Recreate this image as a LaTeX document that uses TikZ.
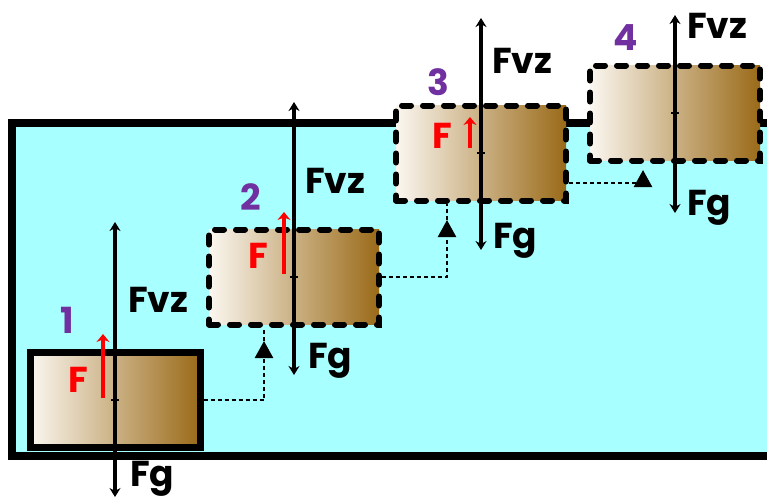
\documentclass[tikz,border=0pt]{standalone}
\usepackage{fontspec}
\setmainfont{Poppins}
\usetikzlibrary{arrows.meta,backgrounds}
\definecolor{water}{HTML}{A8FFFF}
\definecolor{boxl}{HTML}{FBF7F0}
\definecolor{boxr}{HTML}{9A6A18}
\definecolor{numc}{HTML}{7030A0}
\definecolor{fred}{HTML}{FF0000}
\begin{document}
\begin{tikzpicture}[x=1pt,y=-1pt,
  block/.style={rectangle, minimum width=170pt, minimum height=95pt, inner sep=0pt,
    left color=boxl, right color=boxr, draw=black},
  solidblock/.style={block, line width=7pt},
  dashblock/.style={block, line width=6pt, dash pattern=on 9pt off 12pt, line cap=round},
  force/.style={line width=3.5pt, {Stealth[length=9pt,width=11pt]}-{Stealth[length=9pt,width=11pt]}},
  tickmark/.style={line width=1.5pt},
  pull/.style={draw=fred, line width=4pt, -{Stealth[length=8pt,width=13pt]}},
  conn/.style={line width=2.5pt, dash pattern=on 4pt off 3pt},
  connarrow/.style={-{Triangle[length=17pt,width=18pt]}},
  lab/.style={font=\fontsize{36}{40}\selectfont\bfseries, inner sep=0pt, anchor=base west},
]
\useasboundingbox (0,0) rectangle (767,499);
\clip (0,0) rectangle (767,499);

% blocks
\node[solidblock] (b1) at (115,400) {};
\node[dashblock] (b2) at (294,277) {};
\node[dashblock] (b3) at (481,153) {};
\node[dashblock] (b4) at (675,113) {};

% tank and connectors, beneath the blocks
\begin{pgfonlayer}{background}
\draw[line width=8pt, fill=water] (12,123) rectangle (790,456);
\coordinate (a1) at ([xshift=-30pt,yshift=-13.5pt]b2.south);
\coordinate (e1) at ([xshift=-30pt]b2.south);
\coordinate (a2) at ([xshift=-34pt,yshift=-16.5pt]b3.south);
\coordinate (e2) at ([xshift=-34pt]b3.south);
\coordinate (s3) at ([yshift=-30pt]b3.east);
\coordinate (a3) at ([xshift=-32pt,yshift=-6.5pt]b4.south);
\draw[conn, connarrow] (b1.east) -| (a1);
\draw[conn] (a1) -- (e1);
\draw[conn, connarrow] (b2.east) -| (a2);
\draw[conn] (a2) -- (e2);
\draw[conn, connarrow] (s3) -| (a3);
\end{pgfonlayer}

% force lines
\coordinate (u1) at ([yshift=178pt]b1.center);
\coordinate (d1) at ([yshift=-97pt]b1.center);
\coordinate (u2) at ([yshift=175pt]b2.center);
\coordinate (d2) at ([yshift=-98pt]b2.center);
\coordinate (u3) at ([yshift=135pt]b3.center);
\coordinate (d3) at ([yshift=-97pt]b3.center);
\coordinate (u4) at ([yshift=98pt]b4.center);
\coordinate (d4) at ([yshift=-100pt]b4.center);
\draw[force] (u1) -- (d1);
\draw[force] (u2) -- (d2);
\draw[force] (u3) -- (d3);
\draw[force] (u4) -- (d4);
\foreach \b in {b1,b2,b3,b4}
  \draw[tickmark] ([xshift=-4pt]\b.center) -- ([xshift=4pt]\b.center);

% red pull arrows
\coordinate (r1s) at ([xshift=-12pt,yshift=2pt]b1.center);
\coordinate (r1e) at ([xshift=-12pt,yshift=66pt]b1.center);
\coordinate (r2s) at ([xshift=-10pt,yshift=3pt]b2.center);
\coordinate (r2e) at ([xshift=-10pt,yshift=65pt]b2.center);
\coordinate (r3s) at ([xshift=-11pt,yshift=5pt]b3.center);
\coordinate (r3e) at ([xshift=-11pt,yshift=36pt]b3.center);
\draw[pull] (r1s) -- (r1e);
\draw[pull] (r2s) -- (r2e);
\draw[pull] (r3s) -- (r3e);

% labels
\node[lab] (fvz1) at (128,312) {Fvz};
\node[lab] (fg1) at (130,486) {Fg};
\node[lab,text=fred] (f1) at (68,392) {F};
\node[lab,text=numc] (n1) at (60,333) {1};

\node[lab] (fvz2) at (305,193) {Fvz};
\node[lab] (fg2) at (308,368) {Fg};
\node[lab,text=fred] (f2) at (248,268) {F};
\node[lab,text=numc] (n2) at (240,210) {2};

\node[lab] (fvz3) at (492,73) {Fvz};
\node[lab] (fg3) at (493,248) {Fg};
\node[lab,text=fred] (f3) at (432,148) {F};
\node[lab,text=numc] (n3) at (427,95) {3};

\node[lab] (fvz4) at (687,38) {Fvz};
\node[lab] (fg4) at (687,215) {Fg};
\node[lab,text=numc] (n4) at (613,50) {4};
\end{tikzpicture}
\end{document}
